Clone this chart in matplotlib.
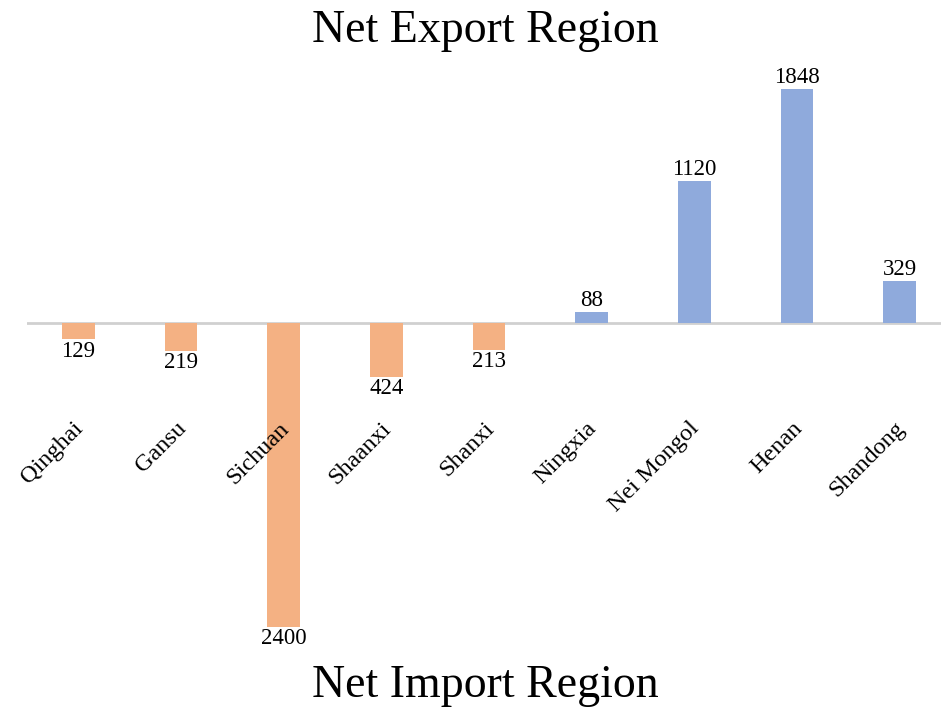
import numpy as np
import matplotlib
matplotlib.use("Agg")
import matplotlib.pyplot as plt

plt.rcParams['font.family'] = ['Liberation Serif', 'DejaVu Serif']

regions = ["Qinghai", "Gansu", "Sichuan", "Shaanxi", "Shanxi",
           "Ningxia", "Nei Mongol", "Henan", "Shandong"]
net_flow = [-129, -219, -2400, -424, -213, 88, 1120, 1848, 329]

import_color = "#F4B183"
export_color = "#8FAADC"

fig = plt.figure(figsize=(9.41, 7.07), dpi=100)
# axes stretched slightly past the right edge so the baseline runs to the border
ax = fig.add_axes([0.0287, 0.0955, 0.982, 0.788])

x = np.arange(len(regions))
colors = [export_color if v > 0 else import_color for v in net_flow]
ax.bar(x, net_flow, width=0.32, color=colors, zorder=2)
ax.axhline(0, color="#d0d0d0", lw=2, zorder=1)

for xi, v in zip(x, net_flow):
    if v > 0:
        ax.text(xi, v + 10, f"{abs(v)}", ha="center", va="bottom", fontsize=16.5)
    else:
        ax.text(xi, v - 10, f"{abs(v)}", ha="center", va="top", fontsize=16.5)

for xi, name in zip(x, regions):
    ax.text(xi + 0.09, -750, name, rotation=45, ha="right", va="top", fontsize=17.5)

ax.set_xlim(-0.5, len(regions) - 0.5)
ax.set_ylim(-2500, 1900)
ax.axis("off")

fig.text(0.516, 0.957, "Net Export Region", ha="center", va="center", fontsize=33)
fig.text(0.516, 0.030, "Net Import Region", ha="center", va="center", fontsize=33)

fig.savefig("out.png", dpi=100)
